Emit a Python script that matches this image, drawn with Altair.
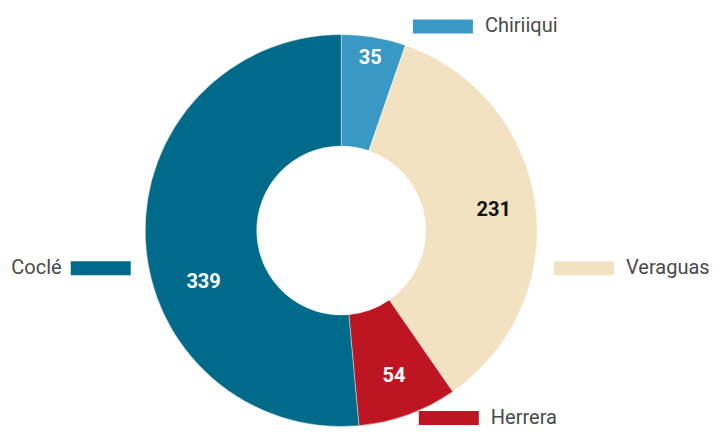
import math
import altair as alt
import pandas as pd

# ---- data ----
categories = ["Chiriiqui", "Veraguas", "Herrera", "Coclé"]
values = [35, 231, 54, 339]
colors = ["#3a98c4", "#f3e2c1", "#bd1622", "#006a8a"]
value_text_colors = ["#ffffff", "#111111", "#ffffff", "#ffffff"]

# ---- layout (pixels / degrees) ----
W, H = 707, 428
CX, CY = 333.2, 222.5
R_IN, R_OUT = 84.5, 196
value_label_radius = [175, 154, 155, 147]
value_label_shift = [0, 0, 0, -18]
tag_angle = [26.5, 98.85, 150.15, 261.1]
tag_radius = [228, 245.7, 216.2, 243.4]
tag_side = ["right", "right", "right", "left"]

total = sum(values)
rows = []
cum = 0
for i, (c, v) in enumerate(zip(categories, values)):
    mid = (cum + v / 2) / total * 360
    cum += v
    a = math.radians(mid + value_label_shift[i])
    vx = CX + value_label_radius[i] * math.sin(a)
    vy = CY - value_label_radius[i] * math.cos(a)
    ta = math.radians(tag_angle[i])
    mx = CX + tag_radius[i] * math.sin(ta)
    my = CY - tag_radius[i] * math.cos(ta)
    tx = mx + 42 if tag_side[i] == "right" else mx - 39
    rows.append(dict(idx=i, category=c, value=v, label=str(v),
                     tcolor=value_text_colors[i], vx=vx, vy=vy,
                     mx=mx, my=my, tx=tx, side=tag_side[i]))
df = pd.DataFrame(rows)

color_scale = alt.Scale(domain=categories, range=colors)
base = alt.Chart(df)

arcs = base.mark_arc(innerRadius=R_IN, outerRadius=R_OUT, stroke="#ffffff",
                     strokeWidth=0.4).encode(
    theta=alt.Theta("value:Q", stack=True),
    order=alt.Order("idx:Q"),
    color=alt.Color("category:N", scale=color_scale, legend=None),
    x=alt.value(CX),
    y=alt.value(CY),
)

value_text = base.mark_text(font="Roboto", fontSize=20, fontWeight="bold",
                            align="center", baseline="middle").encode(
    x=alt.X("vx:Q", scale=None, axis=None),
    y=alt.Y("vy:Q", scale=None, axis=None),
    text="label:N",
    color=alt.Color("tcolor:N", scale=None),
)

markers = base.mark_point(shape="M-1,-0.2333H1V0.2333H-1Z", size=3600,
                          filled=True, opacity=1, strokeWidth=0).encode(
    x=alt.X("mx:Q", scale=None, axis=None),
    y=alt.Y("my:Q", scale=None, axis=None),
    color=alt.Color("category:N", scale=color_scale, legend=None),
)

tag_right = base.transform_filter(alt.datum.side == "right").mark_text(
    font="Roboto", fontSize=20, color="#4a4a4a", align="left", baseline="middle"
).encode(
    x=alt.X("tx:Q", scale=None, axis=None),
    y=alt.Y("my:Q", scale=None, axis=None),
    text="category:N",
)

tag_left = base.transform_filter(alt.datum.side == "left").mark_text(
    font="Roboto", fontSize=20, color="#4a4a4a", align="right", baseline="middle"
).encode(
    x=alt.X("tx:Q", scale=None, axis=None),
    y=alt.Y("my:Q", scale=None, axis=None),
    text="category:N",
)

chart = alt.layer(arcs, value_text, markers, tag_right, tag_left).properties(
    width=W, height=H, padding=0,
    autosize=alt.AutoSizeParams(type="none"),
    background="#ffffff",
).configure_view(stroke=None)

chart.save("out.html", embed_options={"renderer": "svg", "actions": False})
